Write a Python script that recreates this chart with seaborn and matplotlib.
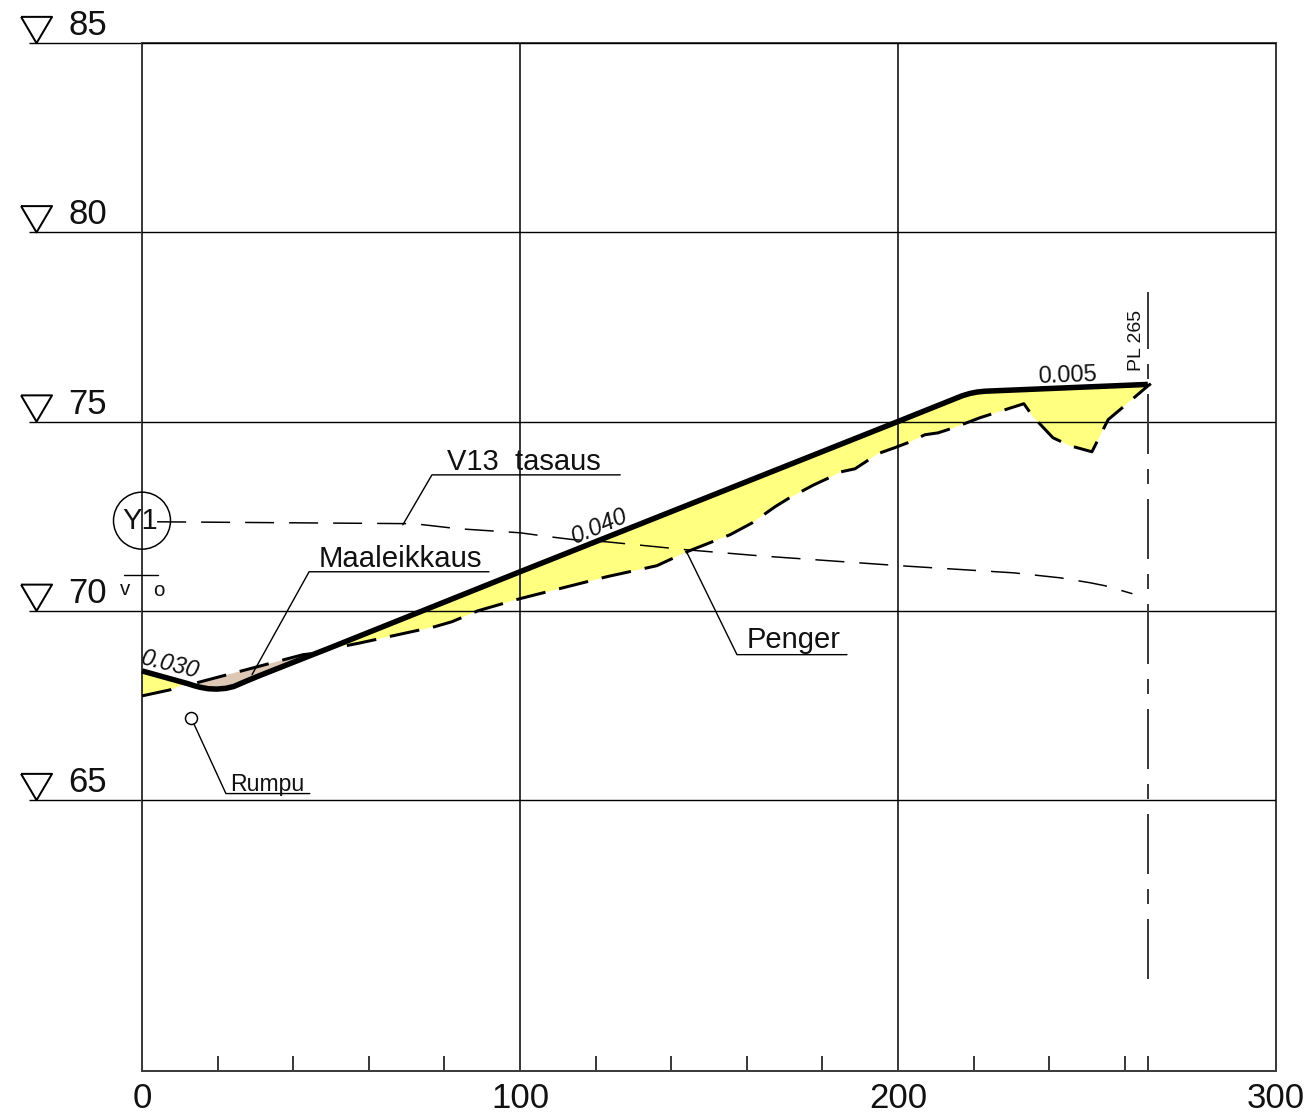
import numpy as np
import matplotlib
matplotlib.use("Agg")
import matplotlib.pyplot as plt
from matplotlib.transforms import ScaledTranslation
import seaborn as sns

# --- data -------------------------------------------------------------
road_x = [0, 11.9, 13.8, 15.3, 17.5, 19.8, 22.2, 24.3, 27.8, 31.2, 42.6, 50, 100, 200, 215.0, 217.0, 219.0,
          221.0, 223, 266.1]
road_y = [68.41, 68.08, 68.02, 67.98, 67.94, 67.93, 67.95, 68.0, 68.15, 68.29, 68.74, 69.03, 71.03, 75.0,
          75.6, 75.68, 75.74, 75.78, 75.8, 75.98]

ground_left_x = [0, 7.4, 11.9]
ground_left_y = [67.75, 67.91, 68.08]

ground_tan_x = [14.6, 42.6, 46.0]
ground_tan_y = [68.1, 68.84, 68.88]

ground_x = [50, 54.2, 57.7, 77.5, 82, 88.9, 100, 123, 136.2, 144.2, 150.3, 155.6, 161.4, 167.5,
            171.4, 177.8, 181.7, 184.9, 188.6, 192.3, 194.7, 199.2, 203.4, 207.1, 210.6, 214.6,
            221.7, 233.3, 235.7, 241, 245.5, 251.3, 255.6, 258.7, 266.1, 266.9]
ground_y = [69.03, 69.08, 69.15, 69.58, 69.71, 70.0, 70.32, 70.9, 71.19, 71.56, 71.8, 72.01, 72.32, 72.75,
            72.99, 73.33, 73.51, 73.67, 73.75, 73.99, 74.15, 74.31, 74.47, 74.65, 74.70, 74.83,
            75.10, 75.47, 75.13, 74.57, 74.36, 74.2, 75.05, 75.31, 75.94, 76.0]

v13_x = [4, 72, 83.3, 100, 107.4, 114, 123, 144.2, 163.5, 200.5, 230.8, 242.9, 250.8, 254.8, 262]
v13_y = [72.35, 72.30, 72.17, 72.06, 71.96, 71.88, 71.82, 71.61, 71.45, 71.19, 71.0, 70.87, 70.74, 70.66, 70.45]

pl_x = [266.1, 266.1]
pl_y = [60.28, 78.43]

level_values = [65, 70, 75, 80, 85]
level_labels = ["65", "70", "75", "80", "85"]
station_values = [0, 100, 200, 300]
station_labels = ["0", "100", "200", "300"]
minor_stations = [20, 40, 60, 80, 120, 140, 160, 180, 220, 240, 260, 266.1]

leader_maale_x, leader_maale_y = [91.8, 44.2, 29.1], [71.03, 71.03, 68.31]
leader_v13_x, leader_v13_y = [126.5, 76.7, 69], [73.59, 73.59, 72.27]
leader_penger_x, leader_penger_y = [186.5, 157.4, 144.2], [68.84, 68.84, 71.53]
leader_rumpu_x, leader_rumpu_y = [44.4, 22.2, 13], [65.17, 65.17, 67.17]
vo_bar_x, vo_bar_y = [-4.8, 4.2], [70.95, 70.95]
rumpu_point = ([13], [67.17])
y1_point = ([0], [72.38])

# --- style ------------------------------------------------------------
sns.set_theme(style="white")
plt.rcParams["font.family"] = ["Liberation Sans", "DejaVu Sans"]
plt.rcParams["lines.scale_dashes"] = False

PX = 0.72  # points per pixel at dpi 100
YELLOW = "#FFFF80"
TAN = "#DCC8B4"
INK = "#111111"

fig = plt.figure(figsize=(13.06, 11.18), dpi=100, facecolor="white")
ax = fig.add_axes([142 / 1306, 1 - 1071 / 1118, (1276 - 142) / 1306, (1071 - 43) / 1118])
ax.set_xlim(0, 300)
ax.set_ylim(65 - 271 / 37.85, 85)


def line(x, y, color="black", lw=1.0, z=3, clip=False, **kw):
    sns.lineplot(x=x, y=y, sort=False, estimator=None, errorbar=None, color=color,
                 linewidth=lw, zorder=z, clip_on=clip, ax=ax, legend=False, **kw)


def band(lower_x, lower_y, x0, x1, colour):
    rx, ry = np.array(road_x), np.array(road_y)
    keep = (rx >= x0) & (rx <= x1)
    ax.fill(np.r_[lower_x, rx[keep][::-1]], np.r_[lower_y, ry[keep][::-1]], color=colour, lw=0, zorder=1)


# fills
band(ground_left_x, ground_left_y, 0, 11.9, YELLOW)
band(ground_tan_x, ground_tan_y, 14.6, 50, TAN)
band(ground_x, ground_y, 50, 267, YELLOW)

# grid
ax.set_yticks(level_values, level_labels)
ax.set_xticks(station_values, station_labels)
ax.set_xticks(minor_stations, minor=True)
ax.set_axisbelow(False)
ax.grid(False)
ax.grid(True, axis="y", color="black", lw=1.4 * PX, zorder=2)
ax.grid(True, axis="x", which="major", color="#3c3c3c", lw=2.0 * PX, zorder=2)
for s in ax.spines.values():
    s.set_color("#3c3c3c")
    s.set_linewidth(2.0 * PX)
    s.set_visible(True)
    s.set_zorder(2.5)

ax.tick_params(axis="x", which="major", length=0, pad=8, labelsize=25, labelcolor=INK)
ax.tick_params(axis="x", which="minor", length=15 * PX, width=2.0 * PX, color="#3c3c3c",
               direction="in", bottom=True)
ax.tick_params(axis="y", which="major", length=0, pad=74 * PX, labelsize=25, labelcolor=INK)
for lab in ax.get_yticklabels():
    lab.set_ha("left")
    lab.set_va("baseline")
    lab.set_transform(lab.get_transform() + ScaledTranslation(0, 8 / 100, fig.dpi_scale_trans))

# level markers outside the axes
ax.hlines(level_values, -30, 0, color="black", lw=1.4 * PX, clip_on=False, zorder=2)
triangle = [(-16.5, 14), (16.5, 14), (0, -14), (-16.5, 14)]
sns.scatterplot(x=[-27.9] * len(level_values), y=[v + 0.343 for v in level_values], marker=triangle, s=498,
                facecolor="none", edgecolor="black", linewidth=2.0 * PX, clip_on=False, ax=ax,
                legend=False, zorder=3)

# centre line at the end station
line(pl_x, pl_y, color="#3c3c3c", lw=2.0 * PX, linestyle=(0, (60 * PX, 15 * PX, 15 * PX, 15 * PX)))

# thin alignment dashed line
line(v13_x, v13_y, lw=1.5 * PX, linestyle=(0, (29 * PX, 15 * PX)))

# ground (dashed, bold)
bold_dash = (0, (30 * PX, 14 * PX))
line(ground_left_x, ground_left_y, lw=3.0 * PX, z=4, linestyle=bold_dash)
line(ground_tan_x, ground_tan_y, lw=3.0 * PX, z=4, linestyle=bold_dash)
line(ground_x[1:], ground_y[1:], lw=3.0 * PX, z=4, linestyle=bold_dash)

# road
line(road_x, road_y, lw=5.5 * PX, z=5, solid_capstyle="butt", solid_joinstyle="round")

# leaders
for lx, ly in [(leader_maale_x, leader_maale_y), (leader_v13_x, leader_v13_y),
               (leader_penger_x, leader_penger_y), (leader_rumpu_x, leader_rumpu_y),
               (vo_bar_x, vo_bar_y)]:
    line(lx, ly, lw=1.4 * PX, z=6)

# symbols
sns.scatterplot(x=rumpu_point[0], y=rumpu_point[1], marker="o", s=(12 * PX) ** 2, facecolor="white",
                edgecolor="black", linewidth=1.5 * PX, ax=ax, legend=False, zorder=7, clip_on=False)
sns.scatterplot(x=y1_point[0], y=y1_point[1], marker="o", s=(57 * PX) ** 2, facecolor="none",
                edgecolor="black", linewidth=1.5 * PX, ax=ax, legend=False, zorder=7, clip_on=False)

# labels
label_kw = dict(color=INK, zorder=8, clip_on=False)
ax.text(80.7, 73.73, "V13  tasaus", fontsize=21, va="baseline", **label_kw)
ax.text(46.8, 71.16, "Maaleikkaus", fontsize=21.2, va="baseline", **label_kw)
ax.text(160, 69.02, "Penger", fontsize=21, va="baseline", **label_kw)
ax.text(23.3, 65.24, "Rumpu", fontsize=16.6, va="baseline", **label_kw)
ax.text(-0.5, 72.38, "Y1", fontsize=21, ha="center", va="center", **label_kw)
ax.text(-4.5, 70.55, "v", fontsize=14.8, ha="center", va="center", **label_kw)
ax.text(4.5, 70.53, "o", fontsize=14.8, ha="center", va="center", **label_kw)
ax.text(263.2, 77.13, "PL 265", fontsize=14, rotation=90, ha="center", va="center", **label_kw)
ax.text(7.4, 68.57, "0.030", fontsize=17, rotation=-14, ha="center", va="center",
        style="italic", rotation_mode="anchor", **label_kw)
ax.text(121.2, 72.22, "0.040", fontsize=17, rotation=23, ha="center", va="center",
        style="italic", rotation_mode="anchor", **label_kw)
ax.text(244.7, 76.21, "0.005", fontsize=17, rotation=2, ha="center", va="center",
        rotation_mode="anchor", **label_kw)

ax.set_xlabel("")
ax.set_ylabel("")
fig.savefig("out.png", dpi=100, facecolor="white")
